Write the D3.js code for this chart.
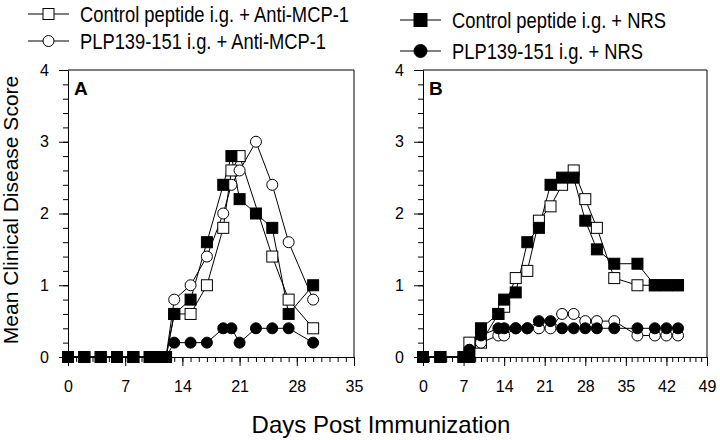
<!DOCTYPE html>
<html><head><meta charset="utf-8">
<script src="https://cdn.jsdelivr.net/npm/d3@7/dist/d3.min.js"></script>
<style>
body{margin:0;background:#fff;}
text{font-family:"Liberation Sans",Arial,sans-serif;fill:#000;}
</style></head>
<body><svg id="c" width="720" height="440"></svg>
<script>
// ---- data ----
const seriesNames = ["Control peptide i.g. + Anti-MCP-1","PLP139-151 i.g. + Anti-MCP-1","Control peptide i.g. + NRS","PLP139-151 i.g. + NRS"];
const yTicks = [0,1,2,3,4];
const xTicksA = [0,7,14,21,28,35];
const xTicksB = [0,7,14,21,28,35,42,49];

const daysA      = [0,2,4,6,8,10,11,12,13,15,17,19,20,21,23,25,27,30];
const ctrlAntiA  = [0,0,0,0,0,0,0,0,0.6,0.6,1.0,1.8,2.6,2.8,null,1.4,0.8,0.4];
const plpAntiA   = [0,0,0,0,0,0,0,0,0.8,1.0,1.4,2.0,2.4,2.6,3.0,2.4,1.6,0.8];
const ctrlNrsA   = [0,0,0,0,0,0,0,0,0.6,0.8,1.6,2.4,2.8,2.2,2.0,1.8,0.6,1.0];
const plpNrsA    = [0,0,0,0,0,0,0,0,0.2,0.2,0.2,0.4,0.4,0.2,0.4,0.4,0.4,0.2];

const daysB      = [0,3,7,8,10,13,14,16,18,20,22,24,26,28,30,33,37,40,42,44];
const ctrlAntiB  = [0,0,0,0.2,0.2,0.6,0.7,1.1,1.2,1.9,2.1,2.4,2.6,2.2,1.8,1.1,1.0,1.0,1.0,1.0];
const plpAntiB   = [0,0,0,0.1,0.2,0.3,0.3,0.4,0.4,0.4,0.4,0.6,0.6,0.5,0.5,0.5,0.3,0.3,0.3,0.3];
const ctrlNrsB   = [0,0,0,0,0.4,0.6,0.8,0.9,1.6,1.8,2.4,2.5,2.5,1.9,1.5,1.3,1.3,1.0,1.0,1.0];
const plpNrsB    = [0,0,0,0.1,0.3,0.4,0.4,0.4,0.4,0.5,0.5,0.4,0.4,0.4,0.4,0.4,0.4,0.4,0.4,0.4];

// ---- drawing ----
const svg = d3.select("#c");
const styles = [
  {shape:"square", fill:"#fff"},
  {shape:"circle", fill:"#fff"},
  {shape:"square", fill:"#000"},
  {shape:"circle", fill:"#000"}
];
function marker(g, st, x, y, size){
  if(st.shape==="square"){
    g.append("rect").attr("x",x-size/2).attr("y",y-size/2).attr("width",size).attr("height",size)
     .attr("fill",st.fill).attr("stroke","#000").attr("stroke-width",1);
  } else {
    g.append("circle").attr("cx",x).attr("cy",y).attr("r",size/2)
     .attr("fill",st.fill).attr("stroke","#000").attr("stroke-width",1);
  }
}

function panel(opts){
  const {x0,x1,y0,y1,xMax,xTicks,days,vals,label} = opts;
  const x = d3.scaleLinear().domain([0,xMax]).range([x0,x1]);
  const y = d3.scaleLinear().domain([0,4]).range([y0,y1]);
  const g = svg.append("g");
  g.append("line").attr("x1",x0).attr("x2",x1).attr("y1",y1).attr("y2",y1).attr("stroke","#000");
  g.append("line").attr("x1",x1).attr("x2",x1).attr("y1",y1).attr("y2",y0).attr("stroke","#000");
  const ya = d3.axisLeft(y).tickValues(yTicks).tickSize(9).tickPadding(10).tickFormat(d3.format("d"));
  g.append("g").attr("transform",`translate(${x0},0)`).call(ya);
  const ym = d3.axisLeft(y).tickValues(d3.range(0,4.01,0.2)).tickSize(5).tickFormat("");
  g.append("g").attr("transform",`translate(${x0},0)`).call(ym).select(".domain").remove();
  const xa = d3.axisBottom(x).tickValues(xTicks).tickSize(9).tickPadding(15).tickFormat(d3.format("d"));
  g.append("g").attr("transform",`translate(0,${y0})`).call(xa);
  const xm = d3.axisBottom(x).tickValues(d3.range(0,xMax+0.01,1)).tickSize(5).tickFormat("");
  g.append("g").attr("transform",`translate(0,${y0})`).call(xm).select(".domain").remove();
  g.selectAll(".domain").attr("stroke","#000");
  g.selectAll(".tick line").attr("stroke","#000");
  g.selectAll(".tick text").style("font-size","16px").attr("fill","#000");
  g.append("text").attr("x",x0+6).attr("y",y1+25).style("font-size","19px").style("font-weight","bold").text(label);
  const line = d3.line().x(d=>x(d.d)).y(d=>y(d.v));
  vals.forEach((arr,i)=>{
    const pts = days.map((d,j)=>({d:d,v:arr[j]})).filter(p=>p.v!=null);
    g.append("path").attr("d",line(pts)).attr("fill","none").attr("stroke","#000").attr("stroke-width",1);
  });
  vals.forEach((arr,i)=>{
    const pts = days.map((d,j)=>({d:d,v:arr[j]})).filter(p=>p.v!=null);
    const mg = g.append("g");
    pts.forEach(p=>marker(mg, styles[i], x(p.d), y(p.v), 11));
  });
}

panel({x0:68,x1:354,y0:357,y1:70,xMax:35,xTicks:xTicksA,days:daysA,
  vals:[ctrlAntiA,plpAntiA,ctrlNrsA,plpNrsA],label:"A"});
panel({x0:423,x1:707,y0:357,y1:70,xMax:49,xTicks:xTicksB,days:daysB,
  vals:[ctrlAntiB,plpAntiB,ctrlNrsB,plpNrsB],label:"B"});

svg.append("text").attr("transform","translate(18,210) rotate(-90)").attr("text-anchor","middle")
  .style("font-size","21px").text("Mean Clinical Disease Score");
svg.append("text").attr("x",381).attr("y",433).attr("text-anchor","middle")
  .style("font-size","24px").text("Days Post Immunization");

const legend = [
  {i:0,x:28,y:14,size:11,w:269},
  {i:1,x:28,y:41,size:11,w:246},
  {i:2,x:400,y:20,size:13,w:214},
  {i:3,x:400,y:51,size:13,w:191}
];
legend.forEach(L=>{
  const lg = svg.append("g");
  lg.append("line").attr("x1",L.x).attr("x2",L.x+41).attr("y1",L.y).attr("y2",L.y).attr("stroke","#000");
  marker(lg, styles[L.i], L.x+20.5, L.y, L.size);
  lg.append("text").attr("x",L.x+52).attr("y",L.y).attr("dy","0.36em").style("font-size","22px")
    .attr("textLength",L.w).attr("lengthAdjust","spacingAndGlyphs").text(seriesNames[L.i]);
});
</script></body></html>
